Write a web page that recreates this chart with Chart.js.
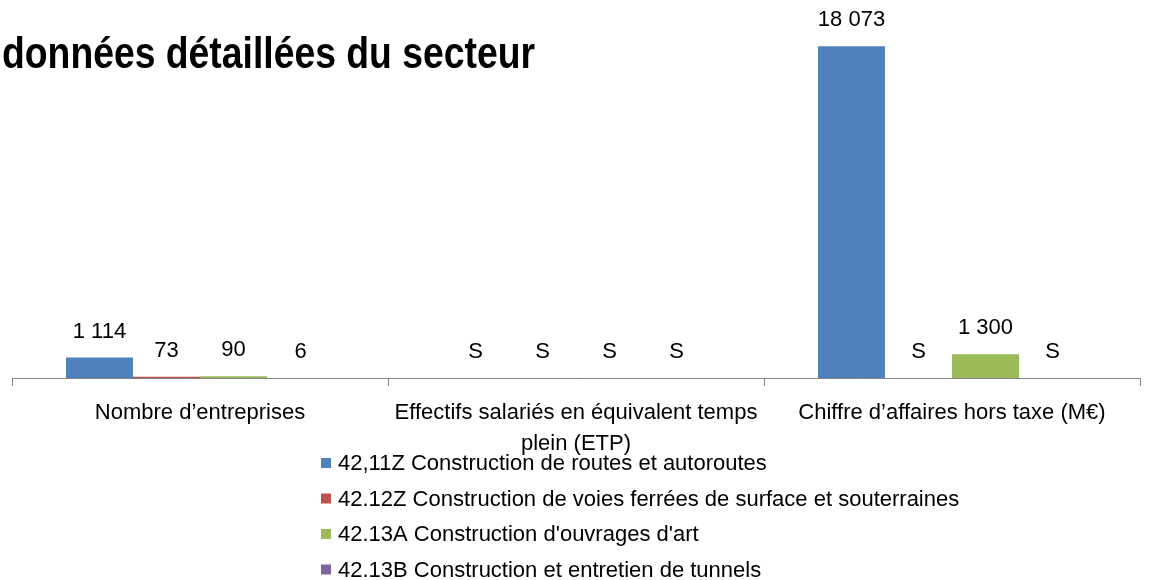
<!DOCTYPE html>
<html>
<head>
<meta charset="utf-8">
<style>
  html, body { margin: 0; padding: 0; background: #ffffff; }
  canvas { display: block; }
</style>
<script src="https://cdn.jsdelivr.net/npm/chart.js@4"></script>
</head>
<body>
<canvas id="c" width="1150" height="580"></canvas>
<script>
// ---- data ----
const chartTitle = "données détaillées du secteur";
const categories = [
  ["Nombre d’entreprises"],
  ["Effectifs salariés en équivalent temps", "plein (ETP)"],
  ["Chiffre d’affaires hors taxe (M€)"]
];
const seriesNames = [
  "42,11Z Construction de routes et autoroutes",
  "42.12Z Construction de voies ferrées de surface et souterraines",
  "42.13A Construction d'ouvrages d'art",
  "42.13B Construction et entretien de tunnels"
];
// null = "S" (secret statistique)
const routes   = [1114, null, 18073];
const voies    = [73,   null, null];
const ouvrages = [90,   null, 1300];
const tunnels  = [6,    null, null];
const yMax = 20000;

const colors = ["#4F81BD", "#C0504D", "#9BBB59", "#8064A2"];
const FONT = '"Liberation Sans", Arial, sans-serif';

function fmt(v) {
  return String(v).replace(/\B(?=(\d{3})+(?!\d))/g, " ");
}

const titlePlugin = {
  id: "titleLeft",
  afterDraw(chart) {
    const ctx = chart.ctx;
    ctx.save();
    ctx.font = 'bold 45px "Liberation Sans", Arial, sans-serif';
    ctx.fillStyle = "#000";
    ctx.textBaseline = "alphabetic";
    ctx.textAlign = "left";
    const w = ctx.measureText(chartTitle).width;
    const target = 533;
    ctx.translate(2, 68);
    ctx.scale(target / w, 1);
    ctx.fillText(chartTitle, 0, 0);
    ctx.restore();
  }
};

const valueLabels = {
  id: "valueLabels",
  afterDatasetsDraw(chart) {
    const ctx = chart.ctx;
    const base = chart.scales.y.getPixelForValue(0);
    ctx.save();
    ctx.font = "22px " + FONT;
    ctx.fillStyle = "#000";
    ctx.textAlign = "center";
    ctx.textBaseline = "middle";
    chart.data.datasets.forEach((ds, di) => {
      const meta = chart.getDatasetMeta(di);
      meta.data.forEach((el, i) => {
        const v = ds.data[i];
        const top = (v === null || v === undefined) ? base : el.y;
        const txt = (v === null || v === undefined) ? "S" : fmt(v);
        ctx.fillText(txt, el.x, top - 26);
      });
    });
    ctx.restore();
  }
};

const legendPlugin = {
  id: "vertLegend",
  afterDraw(chart) {
    const ctx = chart.ctx;
    ctx.save();
    ctx.font = "22px " + FONT;
    ctx.textAlign = "left";
    ctx.textBaseline = "middle";
    chart.data.datasets.forEach((ds, i) => {
      const cy = 463 + i * 35.5;
      ctx.fillStyle = ds.backgroundColor;
      ctx.fillRect(321, cy - 5, 10, 10);
      ctx.fillStyle = "#000";
      ctx.fillText(ds.label, 338, cy + 1);
    });
    ctx.restore();
  }
};

new Chart(document.getElementById("c"), {
  type: "bar",
  data: {
    labels: categories,
    datasets: [
      { label: seriesNames[0], data: routes,   backgroundColor: colors[0] },
      { label: seriesNames[1], data: voies,    backgroundColor: colors[1] },
      { label: seriesNames[2], data: ouvrages, backgroundColor: colors[2] },
      { label: seriesNames[3], data: tunnels,  backgroundColor: colors[3] }
    ]
  },
  options: {
    responsive: false,
    animation: false,
    devicePixelRatio: 1,
    datasets: { bar: { categoryPercentage: 0.713, barPercentage: 1.0 } },
    layout: { padding: { left: 12, right: 10, top: 11, bottom: 0 } },
    plugins: {
      legend: { display: false },
      title: { display: false },
      tooltip: { enabled: false }
    },
    scales: {
      x: {
        z: 1,
        grid: { offset: true, drawOnChartArea: false, drawTicks: true, tickLength: 8, color: "#868686", lineWidth: 1 },
        border: { color: "#868686", width: 1 },
        ticks: { font: { family: FONT, size: 22, lineHeight: 1.4 }, color: "#000", padding: 12, maxRotation: 0, autoSkip: false },
        afterFit(scale) { scale.height = 202; }
      },
      y: { display: false, min: 0, max: yMax }
    }
  },
  plugins: [valueLabels, legendPlugin, titlePlugin]
});
</script>
</body>
</html>
